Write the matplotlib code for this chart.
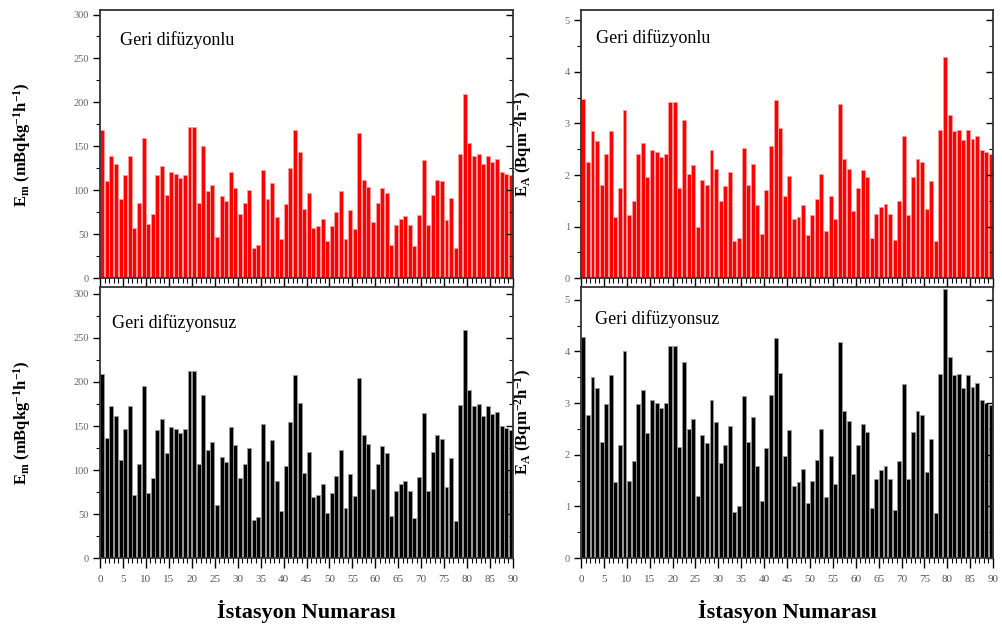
import matplotlib
matplotlib.use("Agg")
import matplotlib.pyplot as plt
from matplotlib.ticker import MultipleLocator
import numpy as np

plt.rcParams['font.family'] = ['Liberation Serif', 'DejaVu Serif']
plt.rcParams['mathtext.fontset'] = 'custom'
plt.rcParams['mathtext.rm'] = 'Liberation Serif:bold'
plt.rcParams['mathtext.default'] = 'rm'

# Station numbers 1..90
stations = np.arange(1, 91)

# Exhalation rate per mass (mBq kg-1 h-1), with back diffusion
em_geri = [169, 110, 139.5, 130, 90, 117.5, 139.5, 57, 86, 160,
           61, 73, 117, 128, 95, 121, 119, 114, 117, 172.5,
           172.5, 86, 150, 99, 106, 47, 93, 88, 121, 102,
           73, 86, 100, 34, 38, 123, 90, 108, 69, 44,
           84, 125, 169, 143, 79, 97, 57, 59, 67.5, 42,
           59, 75, 99, 45, 77, 56, 165, 112, 104, 64,
           86, 102, 97, 38, 60, 67.5, 70.5, 60, 36, 72,
           134, 60, 95, 112, 110, 66, 91, 34, 141, 210,
           154, 139.5, 141, 130, 139.5, 132, 135, 121, 119, 117]

# Exhalation rate per mass, without back diffusion
em_siz = [209, 136, 173, 161.5, 111, 147, 173, 72, 107, 196,
          74, 91.5, 145, 158, 119, 149, 147, 142, 147, 213,
          213, 107, 185, 123, 132, 60, 115, 108.6, 149, 128,
          91.5, 107, 125, 43, 47, 152, 110, 134, 87, 54,
          105, 154, 208, 176, 97, 121, 69, 72, 84, 51,
          74, 93, 123, 57, 96, 70, 204, 140, 129, 79,
          107, 127, 119, 48, 76, 84, 88, 76, 46, 92,
          165, 76, 120, 140, 135.5, 80.6, 113.5, 41.6, 174, 259,
          191, 173, 175, 161.6, 173, 163.5, 166, 150, 148, 146]

# Exhalation rate per area (Bq m-2 h-1), with back diffusion
ea_geri = [3.48, 2.25, 2.85, 2.66, 1.81, 2.41, 2.85, 1.18, 1.75, 3.27,
           1.22, 1.49, 2.41, 2.63, 1.96, 2.48, 2.45, 2.35, 2.41, 3.42,
           3.42, 1.75, 3.06, 2.02, 2.19, 1.00, 1.91, 1.81, 2.48, 2.12,
           1.49, 1.78, 2.06, 0.71, 0.78, 2.53, 1.81, 2.22, 1.42, 0.86,
           1.71, 2.56, 3.45, 2.91, 1.59, 1.99, 1.15, 1.18, 1.41, 0.84,
           1.22, 1.54, 2.02, 0.92, 1.59, 1.15, 3.38, 2.32, 2.12, 1.31,
           1.75, 2.10, 1.96, 0.78, 1.25, 1.38, 1.43, 1.25, 0.74, 1.49,
           2.76, 1.22, 1.96, 2.32, 2.25, 1.35, 1.88, 0.71, 2.88, 4.29,
           3.17, 2.85, 2.88, 2.67, 2.88, 2.70, 2.76, 2.48, 2.45, 2.41]

# Exhalation rate per area, without back diffusion
ea_siz = [4.29, 2.77, 3.50, 3.29, 2.25, 2.98, 3.54, 1.47, 2.19, 4.01,
          1.50, 1.88, 2.98, 3.26, 2.43, 3.06, 3.00, 2.90, 3.00, 4.10,
          4.10, 2.15, 3.79, 2.50, 2.69, 1.21, 2.39, 2.23, 3.06, 2.63,
          1.85, 2.18, 2.56, 0.90, 1.00, 3.13, 2.25, 2.73, 1.79, 1.10,
          2.13, 3.16, 4.26, 3.59, 1.97, 2.47, 1.40, 1.47, 1.72, 1.06,
          1.50, 1.90, 2.50, 1.18, 1.97, 1.44, 4.19, 2.85, 2.66, 1.63,
          2.19, 2.60, 2.44, 0.97, 1.53, 1.71, 1.79, 1.54, 0.94, 1.88,
          3.37, 1.54, 2.44, 2.85, 2.77, 1.66, 2.31, 0.87, 3.56, 5.21,
          3.90, 3.54, 3.56, 3.29, 3.54, 3.32, 3.39, 3.06, 3.00, 2.97]

label_geri = "Geri difüzyonlu"
label_siz = "Geri difüzyonsuz"
ylabel_m = r"E$_{m}$ (mBqkg$^{-1}$h$^{-1}$)"
ylabel_a = r"E$_{A}$ (Bqm$^{-2}$h$^{-1}$)"
xlabel = "İstasyon Numarası"


def draw_panel(ax, values, color, edge, ymax, ymajor, yminor, text, text_xy,
               ylabel, ylabel_x, bottom):
    """
    Draws one bar panel with the boxed axis style.
    """
    ax.bar(stations - 0.5, values, width=0.86, color=color,
           edgecolor=edge, linewidth=0.6)
    ax.set_xlim(0, 90)
    ax.set_ylim(0, ymax)

    ax.xaxis.set_major_locator(MultipleLocator(5))
    ax.xaxis.set_minor_locator(MultipleLocator(1))
    ax.yaxis.set_major_locator(MultipleLocator(ymajor))
    ax.yaxis.set_minor_locator(MultipleLocator(yminor))

    ax.tick_params(axis='x', which='major', direction='out', length=7,
                   width=1, pad=5, labelsize=8, labelcolor='#555555',
                   labelbottom=bottom)
    ax.tick_params(axis='x', which='minor', direction='out', length=3.5,
                   width=0.8)
    ax.tick_params(axis='y', which='major', direction='out', length=5,
                   width=1, pad=3, labelsize=7.5, labelcolor='#666666',
                   right=True)
    ax.tick_params(axis='y', which='minor', direction='out', length=3,
                   width=0.8, right=True)
    # ticks on the right side point inwards
    for tick in ax.yaxis.get_major_ticks() + ax.yaxis.get_minor_ticks():
        tick.tick2line.set_marker(matplotlib.lines.TICKLEFT)

    for s in ax.spines.values():
        s.set_color('#333333')
        s.set_linewidth(1.3)

    ax.text(text_xy[0], text_xy[1], text, transform=ax.transAxes,
            fontsize=13, ha='left', va='center')

    ax.set_ylabel(ylabel, fontsize=12, fontweight='bold')
    ax.yaxis.set_label_coords(ylabel_x, 0.5)
    if bottom:
        ax.set_xlabel(xlabel, fontsize=16, fontweight='bold', labelpad=12)


fig = plt.figure(figsize=(10.03, 6.32), dpi=100)

ax_tl = fig.add_axes([0.0997, 0.560, 0.4118, 0.424])
ax_bl = fig.add_axes([0.0997, 0.117, 0.4118, 0.429])
ax_tr = fig.add_axes([0.5793, 0.560, 0.4108, 0.424])
ax_br = fig.add_axes([0.5793, 0.117, 0.4108, 0.429])

draw_panel(ax_tl, em_geri, '#ff0000', '#ff9a9a', 305, 50, 25,
           label_geri, (0.048, 0.888), ylabel_m, -0.162, False)
draw_panel(ax_bl, em_siz, '#000000', '#9a9a9a', 308, 50, 25,
           label_siz, (0.03, 0.867), ylabel_m, -0.162, True)
draw_panel(ax_tr, ea_geri, '#ff0000', '#ff9a9a', 5.2, 1, 0.5,
           label_geri, (0.036, 0.895), ylabel_a, -0.113, False)
draw_panel(ax_br, ea_siz, '#000000', '#9a9a9a', 5.25, 1, 0.5,
           label_siz, (0.034, 0.88), ylabel_a, -0.113, True)

fig.savefig("out.png", dpi=100)
